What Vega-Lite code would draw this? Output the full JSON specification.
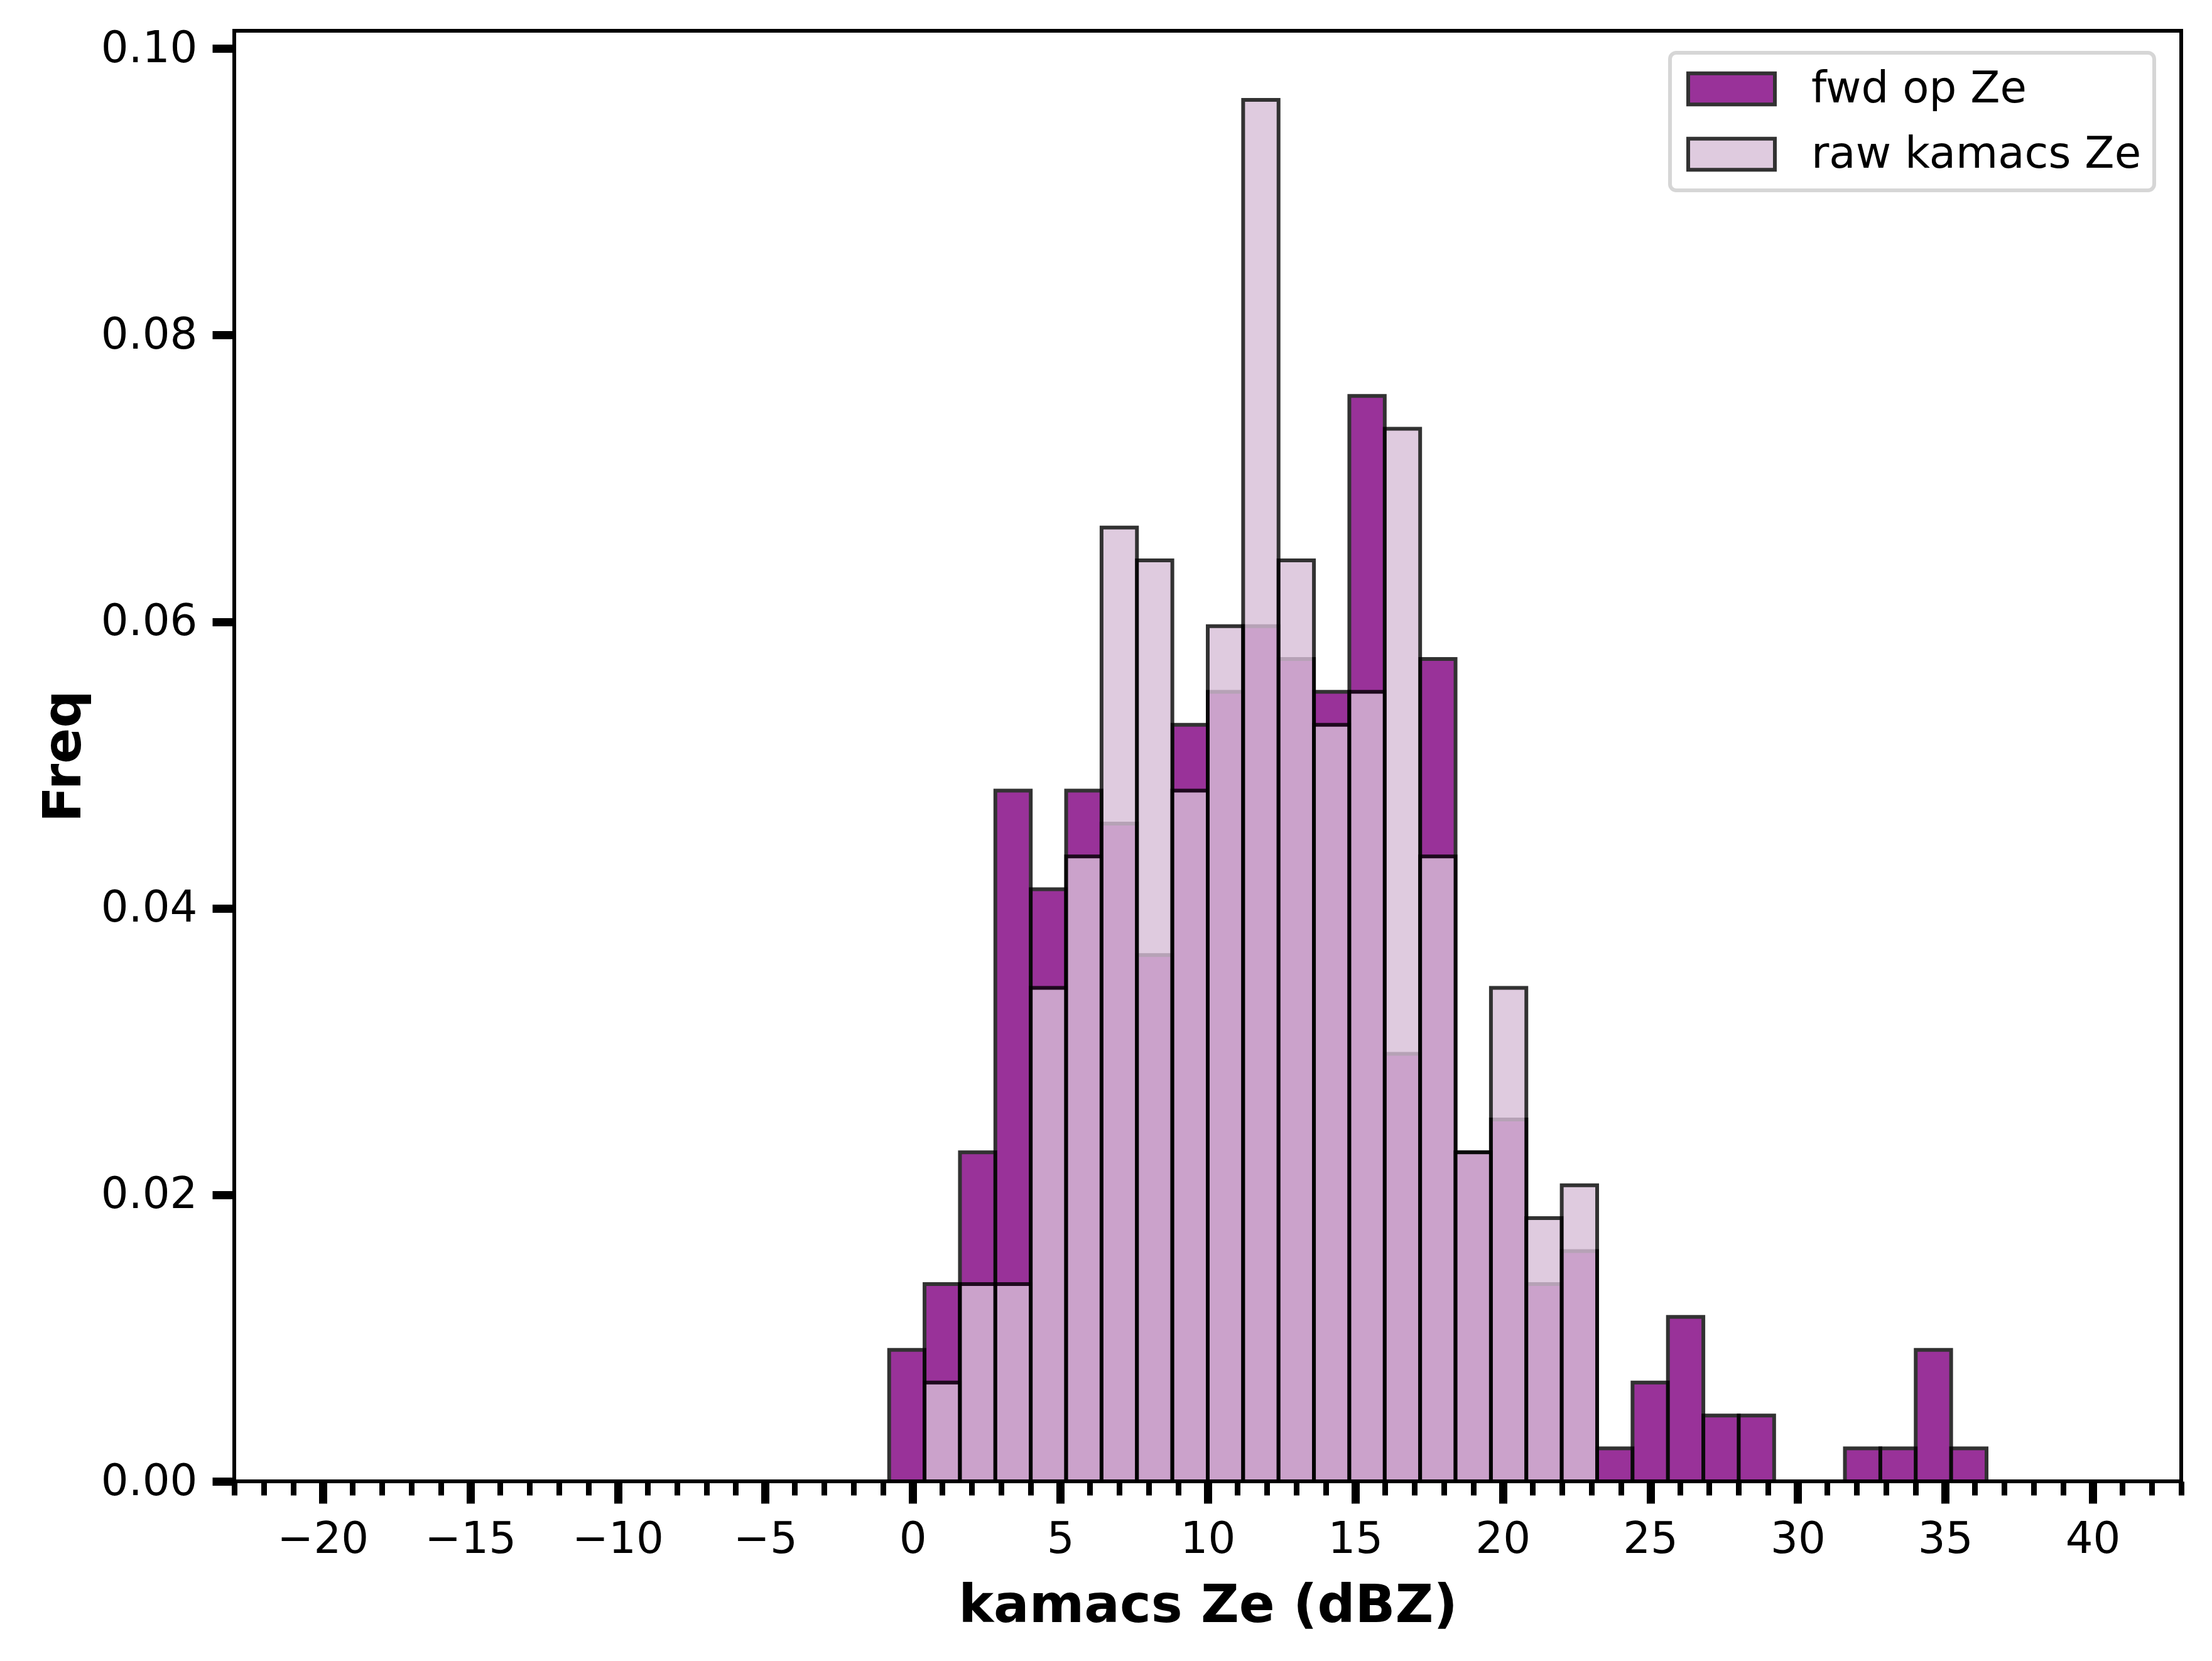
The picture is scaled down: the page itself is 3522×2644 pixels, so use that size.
{
  "$schema": "https://vega.github.io/schema/vega-lite/v6.json",
  "width": 3100,
  "height": 2309,
  "autosize": {"type": "none"},
  "padding": {"left": 373, "top": 49, "right": 49, "bottom": 286},
  "background": "white",
  "config": {
    "view": {"stroke": "black", "strokeWidth": 6},
    "font": "DejaVu Sans"
  },
  "data": {
    "values": [
      {"series": "fwd op Ze", "x0": -0.8, "x1": 0.4, "freq": 0.00918},
      {"series": "fwd op Ze", "x0": 0.4, "x1": 1.6, "freq": 0.01377},
      {"series": "fwd op Ze", "x0": 1.6, "x1": 2.8, "freq": 0.02296},
      {"series": "fwd op Ze", "x0": 2.8, "x1": 4.0, "freq": 0.04821},
      {"series": "fwd op Ze", "x0": 4.0, "x1": 5.2, "freq": 0.04132},
      {"series": "fwd op Ze", "x0": 5.2, "x1": 6.4, "freq": 0.04821},
      {"series": "fwd op Ze", "x0": 6.4, "x1": 7.6, "freq": 0.04591},
      {"series": "fwd op Ze", "x0": 7.6, "x1": 8.8, "freq": 0.03673},
      {"series": "fwd op Ze", "x0": 8.8, "x1": 10.0, "freq": 0.05280},
      {"series": "fwd op Ze", "x0": 10.0, "x1": 11.2, "freq": 0.05510},
      {"series": "fwd op Ze", "x0": 11.2, "x1": 12.4, "freq": 0.05969},
      {"series": "fwd op Ze", "x0": 12.4, "x1": 13.6, "freq": 0.05739},
      {"series": "fwd op Ze", "x0": 13.6, "x1": 14.8, "freq": 0.05510},
      {"series": "fwd op Ze", "x0": 14.8, "x1": 16.0, "freq": 0.07576},
      {"series": "fwd op Ze", "x0": 16.0, "x1": 17.2, "freq": 0.02984},
      {"series": "fwd op Ze", "x0": 17.2, "x1": 18.4, "freq": 0.05739},
      {"series": "fwd op Ze", "x0": 18.4, "x1": 19.6, "freq": 0.02296},
      {"series": "fwd op Ze", "x0": 19.6, "x1": 20.8, "freq": 0.02525},
      {"series": "fwd op Ze", "x0": 20.8, "x1": 22.0, "freq": 0.01377},
      {"series": "fwd op Ze", "x0": 22.0, "x1": 23.2, "freq": 0.01607},
      {"series": "fwd op Ze", "x0": 23.2, "x1": 24.4, "freq": 0.00230},
      {"series": "fwd op Ze", "x0": 24.4, "x1": 25.6, "freq": 0.00689},
      {"series": "fwd op Ze", "x0": 25.6, "x1": 26.8, "freq": 0.01148},
      {"series": "fwd op Ze", "x0": 26.8, "x1": 28.0, "freq": 0.00459},
      {"series": "fwd op Ze", "x0": 28.0, "x1": 29.2, "freq": 0.00459},
      {"series": "fwd op Ze", "x0": 31.6, "x1": 32.8, "freq": 0.00230},
      {"series": "fwd op Ze", "x0": 32.8, "x1": 34.0, "freq": 0.00230},
      {"series": "fwd op Ze", "x0": 34.0, "x1": 35.2, "freq": 0.00918},
      {"series": "fwd op Ze", "x0": 35.2, "x1": 36.4, "freq": 0.00230},
      {"series": "raw kamacs Ze", "x0": 0.4, "x1": 1.6, "freq": 0.00689},
      {"series": "raw kamacs Ze", "x0": 1.6, "x1": 2.8, "freq": 0.01377},
      {"series": "raw kamacs Ze", "x0": 2.8, "x1": 4.0, "freq": 0.01377},
      {"series": "raw kamacs Ze", "x0": 4.0, "x1": 5.2, "freq": 0.03444},
      {"series": "raw kamacs Ze", "x0": 5.2, "x1": 6.4, "freq": 0.04362},
      {"series": "raw kamacs Ze", "x0": 6.4, "x1": 7.6, "freq": 0.06657},
      {"series": "raw kamacs Ze", "x0": 7.6, "x1": 8.8, "freq": 0.06428},
      {"series": "raw kamacs Ze", "x0": 8.8, "x1": 10.0, "freq": 0.04821},
      {"series": "raw kamacs Ze", "x0": 10.0, "x1": 11.2, "freq": 0.05969},
      {"series": "raw kamacs Ze", "x0": 11.2, "x1": 12.4, "freq": 0.09642},
      {"series": "raw kamacs Ze", "x0": 12.4, "x1": 13.6, "freq": 0.06428},
      {"series": "raw kamacs Ze", "x0": 13.6, "x1": 14.8, "freq": 0.05280},
      {"series": "raw kamacs Ze", "x0": 14.8, "x1": 16.0, "freq": 0.05510},
      {"series": "raw kamacs Ze", "x0": 16.0, "x1": 17.2, "freq": 0.07346},
      {"series": "raw kamacs Ze", "x0": 17.2, "x1": 18.4, "freq": 0.04362},
      {"series": "raw kamacs Ze", "x0": 18.4, "x1": 19.6, "freq": 0.02296},
      {"series": "raw kamacs Ze", "x0": 19.6, "x1": 20.8, "freq": 0.03444},
      {"series": "raw kamacs Ze", "x0": 20.8, "x1": 22.0, "freq": 0.01837},
      {"series": "raw kamacs Ze", "x0": 22.0, "x1": 23.2, "freq": 0.02066}
    ]
  },
  "mark": {"type": "bar", "opacity": 0.8, "stroke": "black", "strokeWidth": 6},
  "encoding": {
    "x": {
      "field": "x0",
      "type": "quantitative",
      "scale": {"domain": [-23, 43], "nice": false, "zero": false},
      "axis": {
        "title": "kamacs Ze (dBZ)",
        "values": [-23,-22,-21,-20,-19,-18,-17,-16,-15,-14,-13,-12,-11,-10,-9,-8,-7,-6,-5,-4,-3,-2,-1,0,1,2,3,4,5,6,7,8,9,10,11,12,13,14,15,16,17,18,19,20,21,22,23,24,25,26,27,28,29,30,31,32,33,34,35,36,37,38,39,40,41,42,43],
        "labelExpr": "datum.value % 5 === 0 ? datum.label : ''",
        "labelOverlap": false,
        "labelFlush": false,
        "grid": false,
        "domain": false,
        "tickColor": "black",
        "tickSize": {"condition": {"test": "datum.value % 5 === 0", "value": 35}, "value": 22},
        "tickWidth": {"condition": {"test": "datum.value % 5 === 0", "value": 13}, "value": 9},
        "labelFont": "DejaVu Sans",
        "labelFontSize": 69,
        "labelColor": "black",
        "labelPadding": 23,
        "titleFont": "DejaVu Sans",
        "titleFontSize": 84,
        "titleFontWeight": "bold",
        "titleColor": "black",
        "titlePadding": 30
      }
    },
    "x2": {"field": "x1"},
    "y": {
      "field": "freq",
      "type": "quantitative",
      "stack": null,
      "scale": {"domain": [0, 0.10124], "nice": false},
      "axis": {
        "title": "Freq",
        "values": [0, 0.02, 0.04, 0.06, 0.08, 0.1],
        "format": ".2f",
        "grid": false,
        "domain": false,
        "tickColor": "black",
        "tickSize": 35,
        "tickWidth": 13,
        "labelFont": "DejaVu Sans",
        "labelFontSize": 69,
        "labelColor": "black",
        "labelPadding": 24,
        "titleFont": "DejaVu Sans",
        "titleFontSize": 84,
        "titleFontWeight": "bold",
        "titleColor": "black",
        "titlePadding": 28
      }
    },
    "y2": {"datum": 0},
    "color": {
      "field": "series",
      "type": "nominal",
      "scale": {"domain": ["fwd op Ze", "raw kamacs Ze"], "range": ["purple", "thistle"]},
      "legend": {
        "title": null,
        "orient": "none",
        "legendX": 2286,
        "legendY": 35,
        "direction": "vertical",
        "symbolType": "M-0.826,-0.72H3.174V0.72H-0.826Z",
        "symbolSize": 4761,
        "symbolStrokeColor": "black",
        "symbolStrokeWidth": 6,
        "symbolOpacity": 0.8,
        "labelFont": "DejaVu Sans",
        "labelFontSize": 69,
        "labelColor": "black",
        "labelOffset": 130,
        "labelLimit": 1000,
        "rowPadding": 29,
        "padding": 20,
        "fillColor": "white",
        "strokeColor": "#d6d6d6",
        "cornerRadius": 10,
        "encode": {"legend": {"update": {"strokeWidth": {"value": 6}}}}
      }
    }
  }
}
